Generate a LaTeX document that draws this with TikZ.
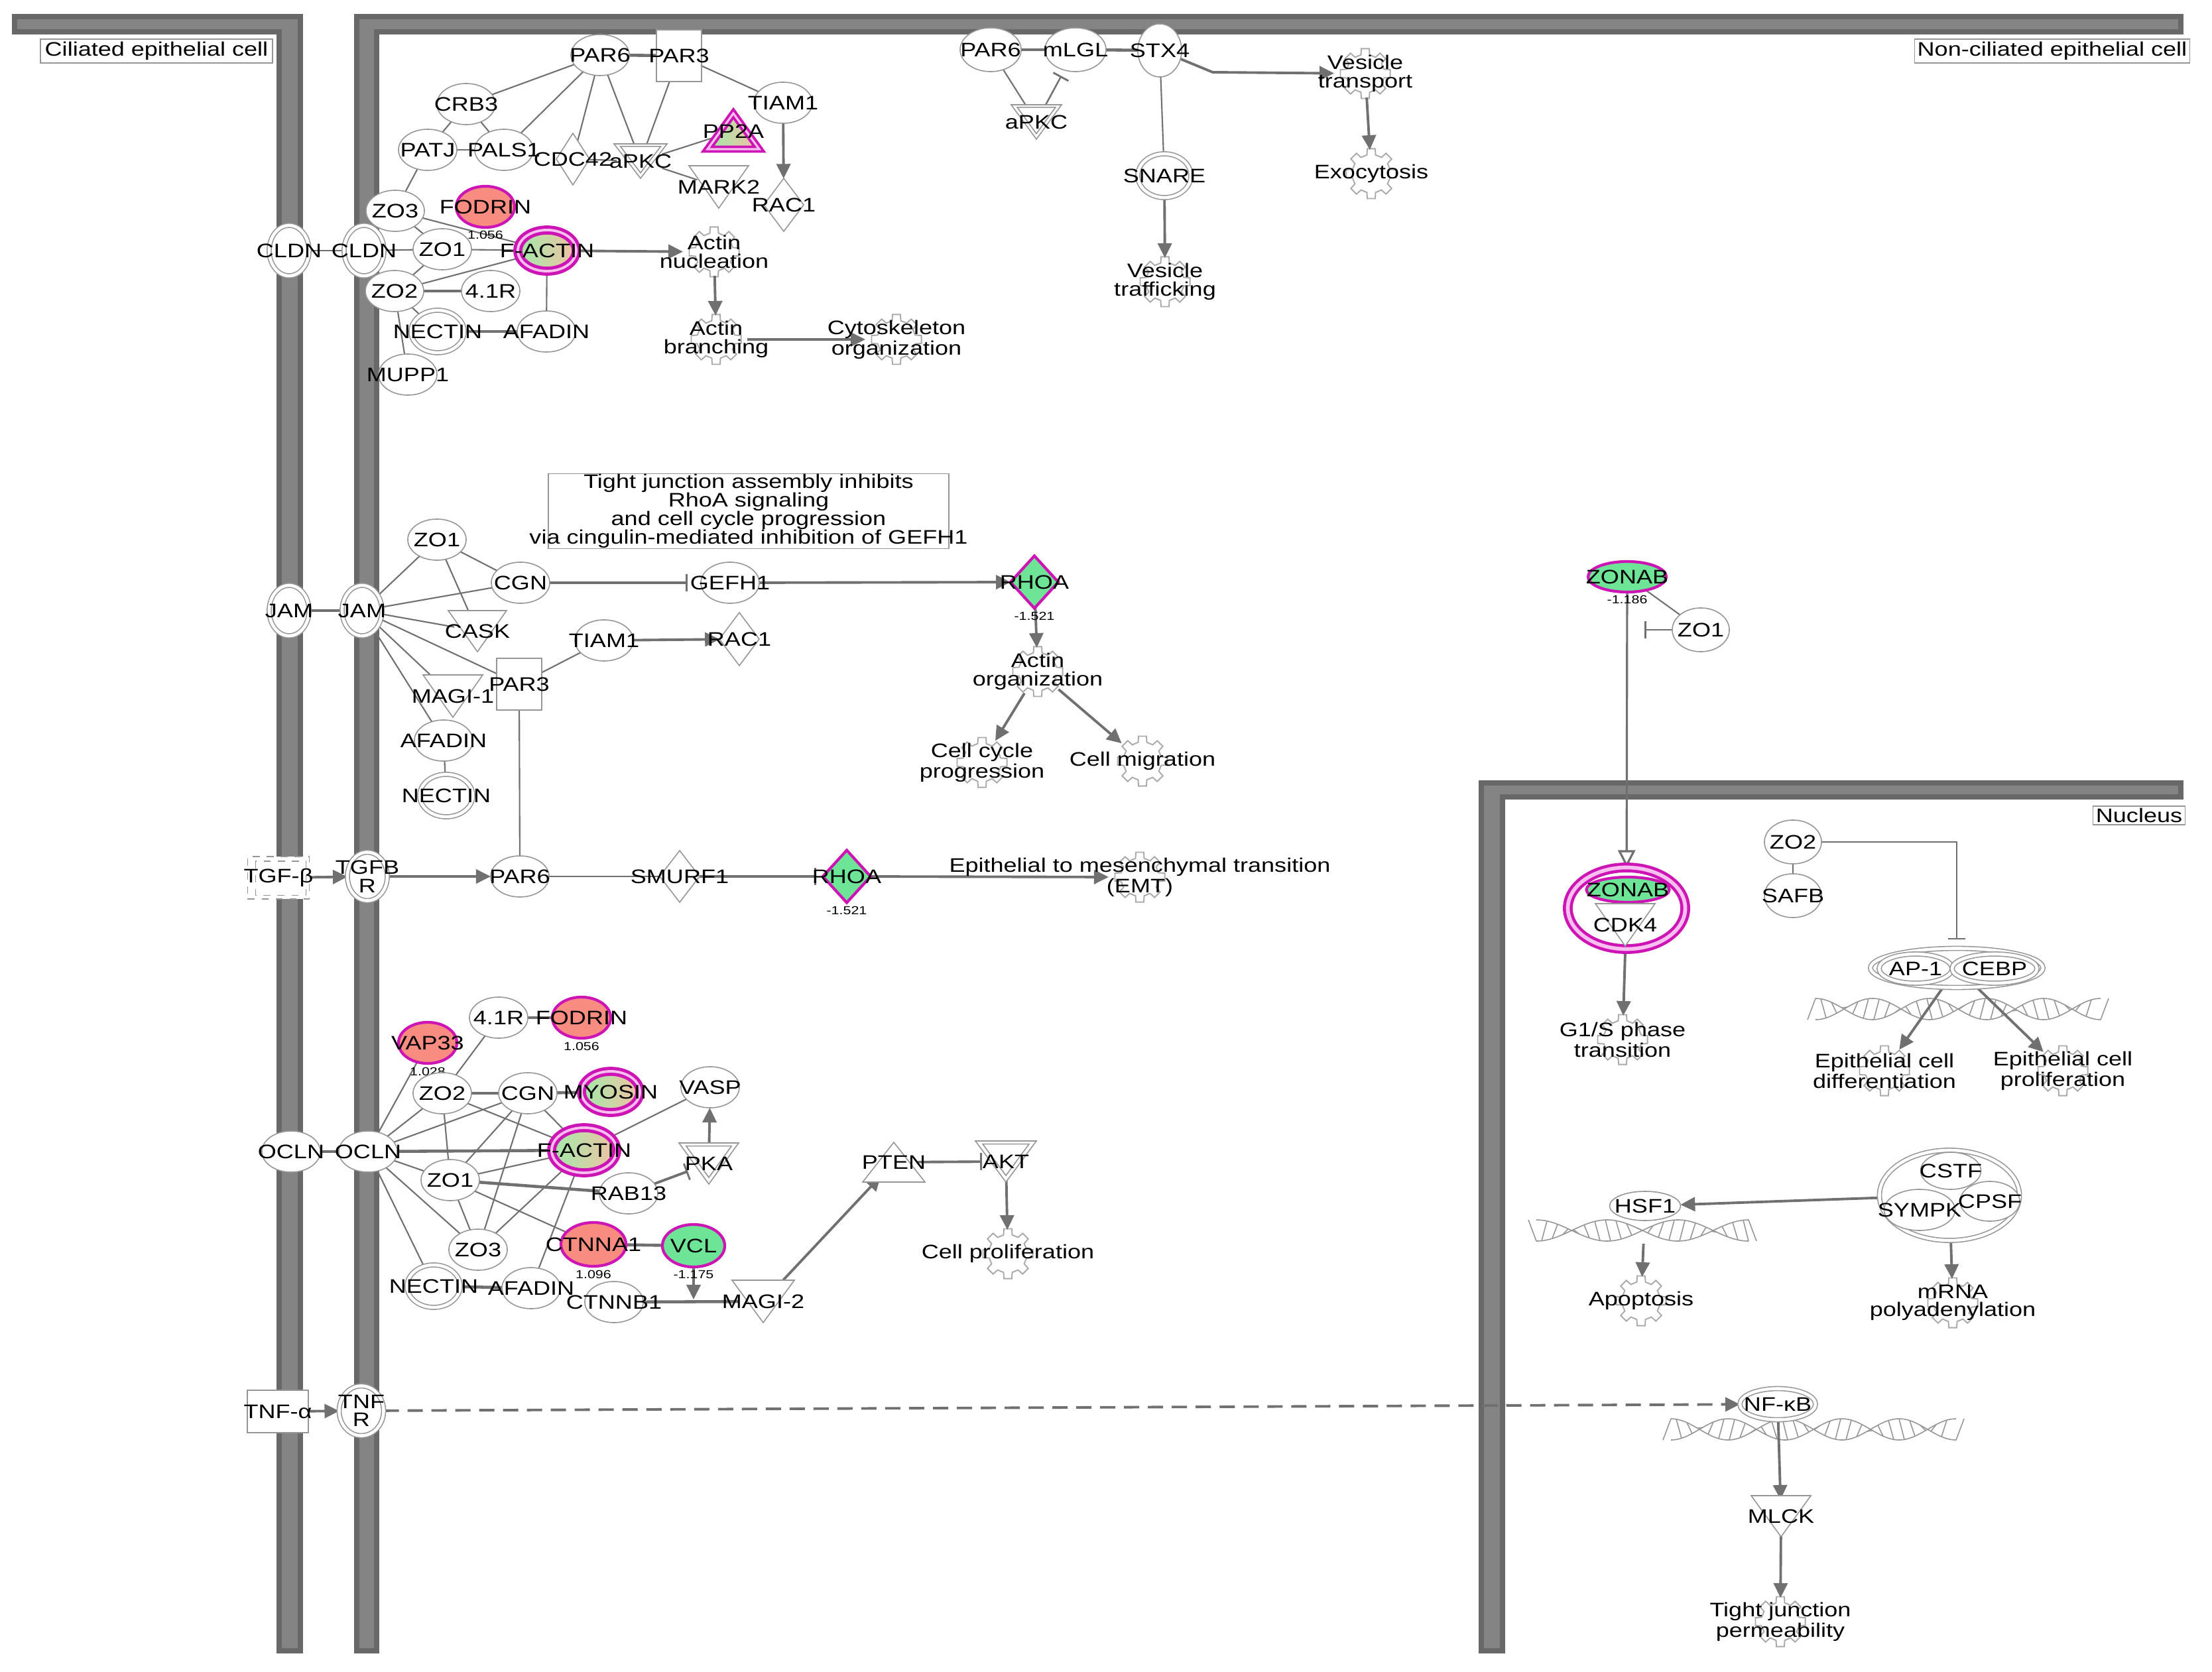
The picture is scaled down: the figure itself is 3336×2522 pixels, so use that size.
\documentclass[tikz,border=0pt]{standalone}
\usepackage{fontspec}
\setmainfont{Liberation Sans}[FakeStretch=1.22]
\usetikzlibrary{shapes.geometric,arrows.meta,calc}
\pgfdeclarelayer{memb}\pgfdeclarelayer{edges}
\pgfsetlayers{memb,edges,main}
\definecolor{membD}{RGB}{104,104,104}
\definecolor{membL}{RGB}{132,132,132}
\definecolor{ecol}{RGB}{112,112,112}
\definecolor{nline}{RGB}{150,150,150}
\definecolor{mag}{RGB}{205,20,180}
\definecolor{maglight}{RGB}{250,190,240}
\definecolor{pinkc}{RGB}{248,140,128}
\definecolor{greenc}{RGB}{110,228,150}
\definecolor{lgreen}{RGB}{160,236,168}
\definecolor{peach}{RGB}{242,192,165}
\definecolor{gearc}{RGB}{170,170,170}
\definecolor{dnac}{RGB}{150,150,150}
\newcommand\nfont{\fontsize{8.4}{7.8}\selectfont}
\newcommand\vfont{\fontsize{5}{5}\selectfont}
\tikzset{
 every label/.style={font=\nfont, inner sep=0pt, align=center, text=black},
 lab/.style={label={center:#1}},
 val/.style={label={[font=\vfont, label distance=0.5mm]below:#1}},
 base/.style={inner sep=0pt, outer sep=0pt},
 mol/.style={base, ellipse, draw=nline, line width=0.45pt, fill=white, minimum width=0.88cm, minimum height=0.62cm},
 dmol/.style={mol, double=white, double distance=1.3pt},
 narrow/.style={minimum width=0.6cm, minimum height=0.76cm},
 pinkmol/.style={mol, draw=mag, line width=1.2pt, fill=pinkc},
 greenmol/.style={mol, draw=mag, line width=1.2pt, fill=greenc},
 ringmol/.style={mol, draw=mag, line width=1.4pt, double=maglight, double distance=1.1pt, left color=lgreen, right color=peach},
 box/.style={base, rectangle, draw=nline, line width=0.45pt, fill=white, minimum width=0.68cm, minimum height=0.78cm},
 dia/.style={base, diamond, draw=nline, line width=0.45pt, fill=white, minimum width=0.6cm, minimum height=0.8cm},
 gdia/.style={dia, draw=mag, line width=1.2pt, fill=greenc},
 tnode/.style={base, ellipse, minimum width=0.72cm, minimum height=0.5cm},
 fn/.style={base, ellipse, minimum width=0.94cm, minimum height=0.72cm},
 triline/.style={draw=nline, line width=0.45pt, fill=white},
 labbox/.style={base, rectangle, draw=nline, line width=0.45pt, fill=white, font=\nfont},
 ln/.style={draw=ecol, line width=0.6pt},
 tk/.style={draw=ecol, line width=1.3pt},
 ar/.style={draw=ecol, line width=1.1pt, -{Triangle[length=2.2mm, width=2.1mm]}},
 inh/.style={draw=ecol, line width=1.1pt, -{Bar[width=2.6mm, line width=0.8pt]}},
 oar/.style={draw=ecol, line width=0.9pt, -{Triangle[length=2.6mm, width=2.6mm, fill=white]}},
 gearl/.style={draw=gearc, line width=0.55pt, fill=white},
 dnal/.style={draw=dnac, line width=0.45pt},
 pics/gear/.style={code={\draw[gearl] (-9:38) \foreach \a in {0,45,...,315}{ -- ({\a+9}:38) -- ({\a+13}:29) -- ({\a+32}:29) -- ({\a+36}:38)} -- cycle;}},
 pics/dna/.style 2 args={code={
  \pgfmathsetmacro\dk{#2/#1}
  \draw[dnal] plot[domain=-#1:#1, samples=120, smooth] (\x,{16*sin(\dk*\x)});
  \draw[dnal] plot[domain=-#1:#1, samples=120, smooth] (\x,{-16*sin(\dk*\x)});
  \pgfmathtruncatemacro\dn{2*#1/16}
  \foreach \i in {1,...,\dn}{
    \pgfmathsetmacro\dxa{-#1+16*\i-8}
    \pgfmathsetmacro\dya{16*sin(\dk*\dxa)}
    \pgfmathsetmacro\dyb{-16*sin(\dk*(\dxa+8))}
    \draw[dnal] (\dxa,\dya) -- ({\dxa+8},\dyb);
  }
  \draw[dnal] (-#1,{16*sin(-\dk*#1)}) -- ({-#1-12},{-16*sin(-\dk*#1)});
  \draw[dnal] (#1,{16*sin(\dk*#1)}) -- ({#1+12},{-16*sin(\dk*#1)});
 }},
}
\newcommand\TriDn[7][]{%
  \draw[triline,#1] ({#3-#5},{#4-#6}) -- ({#3+#5},{#4-#6}) -- (#3,{#4+#6}) -- cycle;
  \node[tnode, lab={#7}] (#2) at (#3,#4) {};}
\newcommand\TriDnD[7][]{%
  \draw[triline,#1] ({#3-#5},{#4-#6}) -- ({#3+#5},{#4-#6}) -- (#3,{#4+#6}) -- cycle;
  \draw[triline,#1] ({#3-0.76*#5},{#4-0.85*#6}) -- ({#3+0.76*#5},{#4-0.85*#6}) -- (#3,{#4+0.68*#6}) -- cycle;
  \node[tnode, lab={#7}] (#2) at (#3,#4) {};}
\newcommand\TriUp[7][]{%
  \draw[triline,#1] ({#3-#5},{#4+#6}) -- ({#3+#5},{#4+#6}) -- (#3,{#4-#6}) -- cycle;
  \node[tnode, lab={#7}] (#2) at (#3,#4) {};}
\begin{document}
\begin{tikzpicture}[x=0.01cm, y=-0.01cm]
\useasboundingbox (0,0) rectangle (3336,2522);
\begin{pgfonlayer}{memb}
 \fill[white] (0,0) rectangle (3336,2522);
 \foreach \xa/\ya/\xb/\yb in {18/21/457/52, 417/21/457/2494, 534/21/3293/52, 534/21/572/2494, 2230/1177/3293/1206, 2230/1177/2270/2494}{
   \fill[membD] (\xa,\ya) rectangle (\xb,\yb);}
 \foreach \xa/\ya/\xb/\yb in {18/21/457/52, 417/21/457/2494, 534/21/3293/52, 534/21/572/2494, 2230/1177/3293/1206, 2230/1177/2270/2494}{
   \fill[membL] (\xa+8,\ya+8) rectangle (\xb-8,\yb-8);}
\end{pgfonlayer}
% compartment labels
\node[labbox, minimum width=3.5cm, minimum height=0.36cm] (lcell) at (236,77) {Ciliated epithelial cell};
\node[labbox, minimum width=4.15cm, minimum height=0.36cm] (rcell) at (3095,77) {Non-ciliated epithelial cell};
\node[labbox, minimum width=1.39cm, minimum height=0.28cm] (nuc) at (3226,1230) {Nucleus};
% ---------- top cluster
\node[dmol, narrow, lab=CLDN] (cldnL) at (436,378) {};
\node[dmol, narrow, lab=CLDN] (cldnR) at (549,378) {};
\node[mol, lab=ZO3] (zo3a) at (596,318) {};
\node[pinkmol, lab=FODRIN, val=1.056] (fodA) at (732,312) {};
\node[mol, lab=ZO1] (zo1a) at (667,376) {};
\node[ringmol, lab=F-ACTIN] (factA) at (825,378) {};
\node[mol, lab=ZO2] (zo2a) at (595,439) {};
\node[mol, lab=4.1R] (r41a) at (740,439) {};
\node[dmol, minimum width=0.8cm, minimum height=0.64cm, lab=NECTIN] (nectA) at (660,500) {};
\node[mol, lab=AFADIN] (afadA) at (824,500) {};
\node[mol, lab=MUPP1] (mupp) at (615,565) {};
\node[mol, lab=PATJ] (patj) at (645,226) {};
\node[mol, lab=PALS1] (pals) at (760,226) {};
\node[mol, lab=CRB3] (crb3) at (703,157) {};
\node[mol, lab=PAR6] (par6a) at (905,83) {};
\node[box, lab=PAR3] (par3a) at (1024,84) {};
\node[mol, lab=TIAM1] (tiam1a) at (1181,155) {};
\node[dia, minimum width=0.5cm, minimum height=0.78cm, lab=CDC42] (cdc42) at (864,240) {};
\TriDnD{apkcA}{966}{243}{40}{26}{aPKC}
\TriUp[draw=mag, line width=1.1pt, double=maglight, double distance=0.9pt, left color=lgreen, right color=peach]{pp2a}{1106}{198}{39}{27}{PP2A}
\TriDn{mark2}{1084}{282}{45}{32}{MARK2}
\node[dia, lab=RAC1] (rac1a) at (1182,309) {};
\node[fn, lab={Actin\\nucleation}] (actnuc) at (1077,380) {};
\node[fn, lab={Actin\\branching}] (actbr) at (1080,512) {};
\node[fn, lab={Cytoskeleton\\organization}] (cyto) at (1352,512) {};
% ---------- top middle
\node[mol, minimum width=0.92cm, minimum height=0.66cm, lab=PAR6] (par6b) at (1494,75) {};
\node[mol, minimum width=0.92cm, minimum height=0.66cm, lab=mLGL] (mlgl) at (1622,75) {};
\node[mol, minimum width=0.66cm, minimum height=0.8cm, lab=STX4] (stx4) at (1749,76) {};
\TriDnD{apkcB}{1563}{184}{38}{26}{aPKC}
\node[dmol, minimum width=0.8cm, minimum height=0.66cm, lab=SNARE] (snare) at (1756,265) {};
\node[fn, lab={Vesicle\\trafficking}] (vtraf) at (1757,425) {};
\node[fn, lab={Vesicle\\transport}] (vtrans) at (2059,111) {};
\node[fn, lab=Exocytosis] (exo) at (2068,262) {};
% ---------- middle
\node[base, rectangle, draw=nline, line width=0.45pt, fill=white, minimum width=6.04cm, minimum height=1.13cm,
  label={[font=\fontsize{8.4}{7.9}\selectfont]center:Tight junction assembly inhibits\\RhoA signaling\\and cell cycle progression\\via cingulin-mediated inhibition of GEFH1}] (tjbox) at (1129,771) {};
\node[dmol, narrow, lab=JAM] (jamL) at (436,921) {};
\node[dmol, narrow, lab=JAM] (jamR) at (546,921) {};
\node[mol, lab=ZO1] (zo1b) at (659,814) {};
\node[mol, lab=CGN] (cgnB) at (785,879) {};
\TriDn{cask}{720}{952}{44}{31}{CASK}
\node[mol, lab=TIAM1] (tiam1b) at (911,966) {};
\node[dia, lab=RAC1] (rac1b) at (1115,964) {};
\TriDn{magi1}{683}{1050}{45}{32}{MAGI-1}
\node[box, lab=PAR3] (par3b) at (783,1032) {};
\node[mol, lab=AFADIN] (afadB) at (669,1117) {};
\node[dmol, minimum width=0.8cm, minimum height=0.64cm, lab=NECTIN] (nectB) at (673,1200) {};
\node[mol, lab=GEFH1] (gefh1) at (1101,879) {};
\node[gdia, minimum width=0.72cm, minimum height=0.79cm, lab=RHOA, val=-1.521] (rhoa1) at (1560,878) {};
\node[fn, lab={Actin\\organization}] (actorg) at (1565,1013) {};
\node[fn, lab={Cell cycle\\progression}] (ccp) at (1481,1150) {};
\node[fn, lab={Cell migration}] (cmig) at (1723,1148) {};
% ---------- TGF row
\node[box, dashed, minimum width=0.93cm, minimum height=0.64cm, lab=TGF-β,
  path picture={\draw[nline, dashed, line width=0.45pt] ([xshift=3.4pt,yshift=-2pt]path picture bounding box.north west) rectangle ([xshift=-1.4pt,yshift=1.6pt]path picture bounding box.south east);}] (tgfb) at (420,1324) {};
\node[dmol, minimum width=0.6cm, minimum height=0.73cm, lab={TGFB\\R}] (tgfbr) at (554,1322) {};
\node[mol, lab=PAR6] (par6c) at (784,1322) {};
\node[dia, minimum width=0.6cm, minimum height=0.78cm, lab=SMURF1] (smurf) at (1025,1322) {};
\node[gdia, minimum width=0.72cm, minimum height=0.79cm, lab=RHOA, val=-1.521] (rhoa2) at (1277,1322) {};
\node[fn, lab={Epithelial to mesenchymal transition\\(EMT)}] (emt) at (1719,1323) {};
% ---------- bottom cluster
\node[mol, lab=4.1R] (r41b) at (752,1535) {};
\node[pinkmol, lab=FODRIN, val=1.056] (fodB) at (877,1535) {};
\node[pinkmol, lab=VAP33, val=1.028] (vap33) at (645,1573) {};
\node[mol, lab=ZO2] (zo2b) at (667,1649) {};
\node[mol, lab=CGN] (cgnC) at (796,1649) {};
\node[ringmol, lab=MYOSIN] (myo) at (921,1647) {};
\node[mol, lab=VASP] (vasp) at (1071,1640) {};
\node[mol, lab=OCLN] (oclnL) at (439,1737) {};
\node[mol, lab=OCLN] (oclnR) at (555,1737) {};
\node[ringmol, minimum width=0.98cm, minimum height=0.68cm, lab=F-ACTIN] (factB) at (881,1735) {};
\TriDnD{pka}{1069}{1755}{45}{31}{PKA}
\node[mol, lab=ZO1] (zo1c) at (679,1780) {};
\node[mol, lab=RAB13] (rab13) at (948,1800) {};
\node[mol, lab=ZO3] (zo3c) at (721,1885) {};
\node[pinkmol, minimum width=0.98cm, minimum height=0.66cm, lab=CTNNA1, val=1.096] (ctnna1) at (895,1877) {};
\node[greenmol, minimum width=0.94cm, minimum height=0.64cm, lab=VCL, val=-1.175] (vcl) at (1046,1879) {};
\node[dmol, minimum width=0.8cm, minimum height=0.64cm, lab=NECTIN] (nectC) at (654,1940) {};
\node[mol, lab=AFADIN] (afadC) at (801,1943) {};
\node[mol, lab=CTNNB1] (ctnnb1) at (926,1964) {};
\TriDn{magi2}{1151}{1963}{47}{32}{MAGI-2}
\TriUp{pten}{1348}{1753}{47}{30}{PTEN}
\TriDnD{akt}{1517}{1752}{46}{31}{AKT}
\node[fn, lab={Cell proliferation}] (cprol) at (1520,1891) {};
% ---------- TNF row
\node[box, minimum width=0.92cm, minimum height=0.64cm, lab=TNF-α] (tnfa) at (419,2129) {};
\node[dmol, minimum width=0.67cm, minimum height=0.75cm, lab={TNF\\R}] (tnfr) at (545,2128) {};
\node[dmol, minimum width=1.14cm, minimum height=0.47cm, lab=NF-κB] (nfkb) at (2681,2118) {};
\TriDn{mlck}{2686}{2287}{45}{31}{MLCK}
\node[fn, lab={Tight junction\\permeability}] (tjp) at (2685,2446) {};
% ---------- right side
\node[greenmol, minimum width=1.18cm, minimum height=0.46cm, lab=ZONAB, val=-1.186] (zonab1) at (2454,870) {};
\node[mol, minimum width=0.86cm, minimum height=0.66cm, lab=ZO1] (zo1d) at (2565,950) {};
\node[mol, draw=mag, line width=1.3pt, double=maglight, double distance=1.6pt, minimum width=1.77cm, minimum height=1.23cm] (zcomp) at (2453,1370) {};
\node[greenmol, minimum width=1.25cm, minimum height=0.38cm, lab=ZONAB] (zonab2) at (2455,1342) {};
\TriDn{cdk4}{2451}{1395}{45}{32}{CDK4}
\node[fn, lab={G1/S phase\\transition}] (g1s) at (2447,1568) {};
\node[mol, minimum width=0.86cm, minimum height=0.66cm, lab=ZO2] (zo2d) at (2704,1270) {};
\node[mol, minimum width=0.86cm, minimum height=0.66cm, lab=SAFB] (safb) at (2704,1351) {};
\node[dmol, minimum width=2.6cm, minimum height=0.59cm] (apc) at (2951,1460) {};
\node[dmol, minimum width=1.1cm, minimum height=0.44cm, lab=AP-1] (ap1) at (2889,1461) {};
\node[dmol, minimum width=1.28cm, minimum height=0.44cm, lab=CEBP] (cebp) at (3008,1461) {};
\node[fn, lab={Epithelial cell\\differentiation}] (ecd) at (2842,1615) {};
\node[fn, lab={Epithelial cell\\proliferation}] (ecp) at (3111,1615) {};
\node[dmol, minimum width=2.11cm, minimum height=1.36cm] (cstfc) at (2940,1803) {};
\node[mol, minimum width=0.91cm, minimum height=0.56cm, lab=CSTF] (cstf) at (2942,1766) {};
\node[mol, minimum width=1.07cm, minimum height=0.62cm, lab=SYMPK] (sympk) at (2895,1825) {};
\node[mol, minimum width=0.9cm, minimum height=0.6cm, lab=CPSF] (cpsf) at (3001,1812) {};
\node[mol, minimum width=1.07cm, minimum height=0.44cm, lab=HSF1] (hsf1) at (2481,1819) {};
\node[fn, lab=Apoptosis] (apop) at (2475,1962) {};
\node[fn, lab={mRNA\\polyadenylation}] (mrna) at (2945,1965) {};
% ---------- edges
\begin{pgfonlayer}{edges}
 \foreach \n in {actnuc,actbr,cyto,vtraf,vtrans,exo,actorg,ccp,cmig,emt,cprol,tjp,g1s,ecd,ecp,apop,mrna}
   \pic at (\n) {gear};
 \pic at (2953,1522) {dna={215}{450}};
 \pic at (2477,1856) {dna={160}{270}};
 \pic at (2735,2156) {dna={215}{450}};
 % top cluster
 \draw[ln] (cldnL) -- (cldnR);
 \draw[ln] (cldnR) -- (zo1a);
 \draw[ln] (zo1a) -- (factA);
 \draw[ln] (zo3a) -- (factA);
 \draw[ln] (zo3a) -- (zo1a);
 \draw[ln] (zo2a) -- (zo1a);
 \draw[ln] (zo2a) -- (factA);
 \draw[tk] (zo2a) -- (r41a);
 \draw[ln] (zo2a) -- (nectA);
 \draw[ln] (zo2a) -- (mupp);
 \draw[ln] (zo3a) -- (patj);
 \draw[tk] (nectA) -- (afadA);
 \draw[ln] (afadA) -- (factA);
 \draw[ln] (patj) -- (pals);
 \draw[ln] (patj) -- (crb3);
 \draw[ln] (pals) -- (crb3);
 \draw[ln] (crb3) -- (par6a);
 \draw[ln] (pals) -- (par6a);
 \draw[ln] (cdc42) -- (par6a);
 \draw[ln] (apkcA) -- (par6a);
 \draw[ln] (apkcA) -- (par3a);
 \draw[tk] (par6a) -- (par3a);
 \draw[ln] (par3a) -- (tiam1a);
 \draw[ln] (cdc42) -- (apkcA);
 \draw[ln] (apkcA) -- (pp2a);
 \draw[ln] (apkcA) -- (mark2);
 \draw[ar] (tiam1a) -- (rac1a);
 \draw[ar] (factA) -- (actnuc);
 \draw[ar] (actnuc) -- (actbr);
 \draw[ar] (actbr) -- (cyto);
 % top middle
 \draw[tk] (par6b) -- (mlgl);
 \draw[tk] (mlgl) -- (stx4);
 \draw[ln] (par6b) -- (apkcB);
 \draw[inh, line width=0.7pt, shorten >=1mm] (apkcB) -- (mlgl);
 \coordinate (stxbend) at (1829,109);
 \draw[ar] (stx4) -- (stxbend) -- (vtrans);
 \draw[ln] (stx4) -- (snare);
 \draw[ar] (snare) -- (vtraf);
 \draw[ar] (vtrans) -- (exo);
 % middle
 \draw[tk] (jamL) -- (jamR);
 \draw[ln] (jamR) -- (zo1b);
 \draw[ln] (jamR) -- (cgnB);
 \draw[ln] (jamR) -- (cask);
 \draw[ln] (jamR) -- (par3b);
 \draw[ln] (jamR) -- (magi1);
 \draw[ln] (jamR) -- (afadB);
 \draw[ln] (zo1b) -- (cgnB);
 \draw[ln] (zo1b) -- (cask);
 \draw[ln] (afadB) -- (nectB);
 \draw[ln] (par3b) -- (tiam1b);
 \draw[ar] (tiam1b) -- (rac1b);
 \draw[inh, shorten >=2mm] (cgnB) -- (gefh1);
 \draw[ar] (gefh1) -- (rhoa1);
 \draw[ar] (rhoa1) -- (actorg);
 \draw[ar] (actorg) -- (ccp);
 \draw[ar] (actorg) -- (cmig);
 \draw[ln] (par3b) -- (par6c);
 % TGF row
 \draw[ar] (tgfb) -- (tgfbr);
 \draw[ar] (tgfbr) -- (par6c);
 \draw[ln] (par6c) -- (smurf);
 \draw[inh, shorten >=1mm] (smurf) -- (rhoa2);
 \draw[ar] (rhoa2) -- (emt);
 % bottom cluster
 \draw[tk] (oclnL) -- (oclnR);
 \draw[tk] (oclnR) -- (factB);
 \draw[ln] (oclnR) -- (vap33);
 \draw[ln] (oclnR) -- (zo2b);
 \draw[ln] (oclnR) -- (cgnC);
 \draw[ln] (oclnR) -- (zo1c);
 \draw[ln] (oclnR) -- (zo3c);
 \draw[ln] (oclnR) -- (nectC);
 \draw[ln] (r41b) -- (zo2b);
 \draw[tk] (zo2b) -- (cgnC);
 \draw[tk] (cgnC) -- (myo);
 \draw[tk] (r41b) -- (fodB);
 \draw[ln] (zo2b) -- (factB);
 \draw[ln] (zo2b) -- (zo1c);
 \draw[ln] (cgnC) -- (zo1c);
 \draw[ln] (cgnC) -- (zo3c);
 \draw[ln] (cgnC) -- (factB);
 \draw[ln] (zo1c) -- (factB);
 \draw[tk] (zo1c) -- (rab13);
 \draw[ln] (zo1c) -- (ctnna1);
 \draw[ln] (zo1c) -- (zo3c);
 \draw[ln] (factB) -- (vasp);
 \draw[ln] (factB) -- (zo3c);
 \draw[ln] (factB) -- (afadC);
 \draw[tk] (ctnna1) -- (vcl);
 \draw[tk] (nectC) -- (afadC);
 \draw[tk] (ctnnb1) -- (magi2);
 \coordinate (vclend) at (1046,1960);
 \draw[ar] (vcl) -- (vclend);
 \draw[inh] (rab13) -- (pka);
 \draw[ar] (pka) -- (vasp);
 \draw[ar] (magi2) -- (pten);
 \draw[inh] (pten) -- (akt);
 \draw[ar] (akt) -- (cprol);
 % TNF row
 \draw[ar] (tnfa) -- (tnfr);
 \draw[ar, dash pattern=on 2.3mm off 1.3mm] (tnfr) -- (nfkb);
 \draw[ar] (nfkb) -- (mlck);
 \draw[ar] (mlck) -- (tjp);
 % right side
 \draw[ln] (zonab1) -- (zo1d);
 \coordinate (zo1end) at (2480,950);
 \draw[inh, line width=0.7pt] (zo1d) -- (zo1end);
 \draw[oar] (zonab1) -- (zcomp);
 \draw[ar] (zcomp) -- (g1s);
 \draw[ln] (zo2d) -- (safb);
 \draw[inh, line width=0.7pt, shorten >=1.3mm] (zo2d) -| (apc);
 \draw[ar] (apc) -- (ecd);
 \draw[ar] (apc) -- (ecp);
 \draw[ar] (cstfc) -- (hsf1);
 \draw[ar] (cstfc) -- (mrna);
 \draw[ar, shorten <=3.5mm] (hsf1) -- (apop);
\end{pgfonlayer}
\end{tikzpicture}
\end{document}
